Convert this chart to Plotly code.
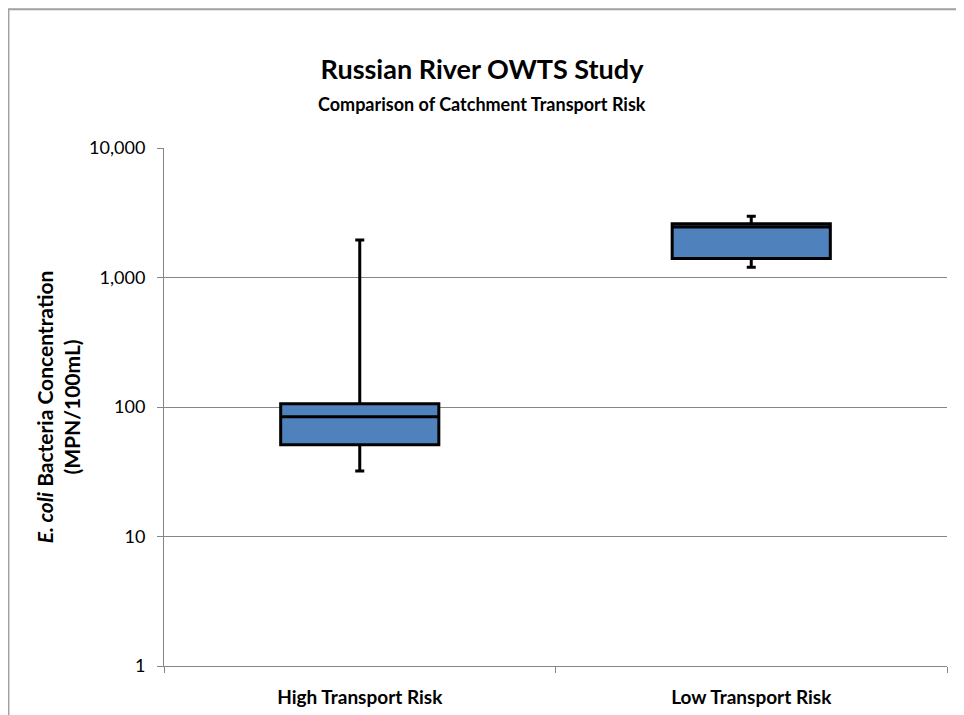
import plotly.graph_objects as go

categories = ["High Transport Risk", "Low Transport Risk"]
lower_whisker = [32, 1200]
q1_values = [51, 1400]
median_values = [84, 2450]
q3_values = [106, 2600]
upper_whisker = [1950, 2970]

y_tick_vals = [1, 10, 100, 1000, 10000]
y_tick_text = ["1", "10", "100", "1,000", "10,000"]

FONT = "Lato"

# page body adds an 8px offset, so figure coords = screen coords - 8
L, T, R, B = 156, 139.5, 938.7, 658.5
PW, PH = R - L, B - T

fig = go.Figure()
fig.add_trace(go.Box(
    x=categories,
    lowerfence=lower_whisker,
    q1=q1_values,
    median=median_values,
    q3=q3_values,
    upperfence=upper_whisker,
    boxpoints=False,
    fillcolor="#4F81BD",
    line=dict(color="black", width=3),
    whiskerwidth=0.057,
    width=0.404,
    showlegend=False,
    hoverinfo="skip",
))

fig.update_layout(
    width=964,
    height=715,
    margin=dict(l=L, r=964 - R, t=T, b=715 - B, autoexpand=False),
    paper_bgcolor="white",
    plot_bgcolor="white",
    font=dict(family=FONT, color="black"),
    title=dict(
        text="<b>Russian River OWTS Study</b>",
        font=dict(family=FONT, size=27, color="black"),
        x=474 / 964, xref="container", xanchor="center",
        y=1 - 62 / 715, yref="container", yanchor="middle",
    ),
    annotations=[dict(
        text="<b>Comparison of Catchment Transport Risk</b>",
        xref="paper", yref="paper",
        x=(474 - L) / PW, y=(B - 95) / PH,
        xanchor="center", yanchor="middle",
        showarrow=False,
        font=dict(family=FONT, size=18, color="black"),
    )],
    shapes=[dict(
        type="rect", xref="paper", yref="paper",
        x0=(0.5 - L) / PW, x1=(975 - L) / PW,
        y0=(B - 730) / PH, y1=(B - 0.5) / PH,
        line=dict(color="#A0A0A0", width=2),
        fillcolor="rgba(0,0,0,0)",
        layer="below",
    )],
)

fig.update_xaxes(
    type="category",
    showline=True, linecolor="#868686", linewidth=1,
    ticks="outside", tickson="boundaries", ticklen=6, tickcolor="#868686",
    tickfont=dict(family=FONT, size=19, color="black", weight="bold"),
    ticklabelstandoff=14,
    showgrid=False,
    range=[-0.5, 1.5],
)

fig.update_yaxes(
    type="log",
    range=[0, 4],
    tickvals=y_tick_vals,
    ticktext=y_tick_text,
    showline=True, linecolor="#868686", linewidth=1,
    ticks="outside", ticklen=6, tickcolor="#868686",
    showgrid=True, gridcolor="#868686", gridwidth=1,
    tickfont=dict(family=FONT, size=18, color="black"),
    ticklabelstandoff=8,
    zeroline=False,
    title=dict(
        text="<b><i>E. coli</i> Bacteria Concentration<br>(MPN/100mL)</b>",
        font=dict(family=FONT, size=21, color="black"),
        standoff=2,
    ),
)

fig.write_html("out.html")
